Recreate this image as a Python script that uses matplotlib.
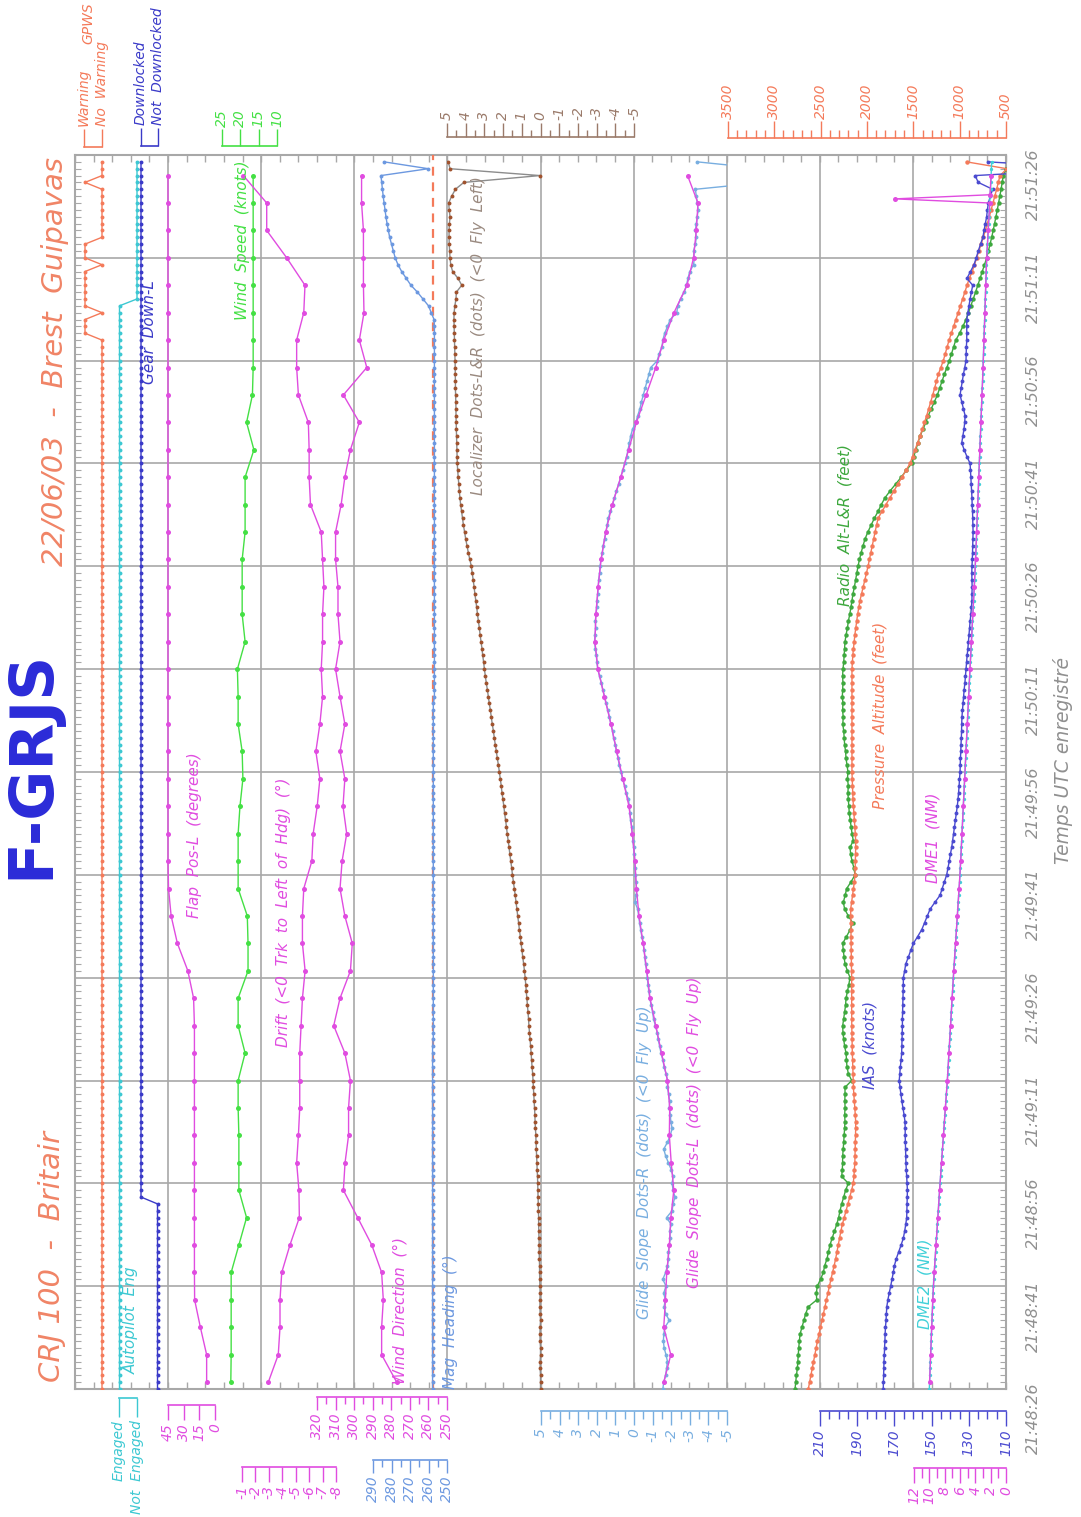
import numpy as np
import matplotlib
matplotlib.use("Agg")
import matplotlib.pyplot as plt

# ---------------------------------------------------------------- data
time_labels = ['21:48:26', '21:48:41', '21:48:56', '21:49:11', '21:49:26', '21:49:41',
               '21:49:56', '21:50:11', '21:50:26', '21:50:41', '21:50:56', '21:51:11', '21:51:26']
sec = np.arange(180)          # 1 Hz samples, seconds after 21:48:26
sec4 = np.arange(1, 178, 4)   # 0.25 Hz samples

gpws = [0] * 154 + [1, 1, 1, 0, 1, 1, 1, 1, 1, 1, 0, 1, 1, 1, 0, 0, 0, 0, 0, 0, 0, 0, 1, 0, 0, 0]
autopilot = [1] * 159 + [0] * 21
gear = [0] * 28 + [1] * 152

flap = [8, 8, 14, 19.5, 19.7, 19.7, 19.7, 19.7, 19.7, 19.7, 19.7, 19.7, 19.7, 19.7, 20.5,
        26, 36, 42, 44.5, 45] + [45] * 25

wind_speed = [22.6, 22.5, 22.5, 22.5, 22.5, 20.4, 18.3, 20.4, 20.4, 20.4, 20.6, 20.6, 18.7, 20.6, 20.6,
              17.9, 17.9, 18.1, 20.6, 20.6, 20.6, 20.1, 19.3, 19.5, 20.6, 20.6, 20.8, 18.7, 19.5, 19.5,
              19.5, 18.7, 18.7, 18.7, 16.3, 18.3, 16.7, 16.5, 16.5, 16.5, 16.5, 16.5, 16.5, 16.5, 16.5]

drift = [-2.96, -3.70, -3.83, -3.83, -3.96, -4.57, -5.27, -5.24, -5.07, -5.2, -5.3, -5.3, -5.3, -5.4, -5.5,
         -5.7, -5.5, -5.5, -5.6, -6.2, -6.3, -6.6, -6.8, -6.5, -6.8, -7.0, -6.9, -7.0, -7.0, -7.1,
         -7.0, -6.9, -6.1, -6.0, -6.0, -5.94, -5.2, -5.07, -5.07, -5.6, -5.69, -4.33, -2.84, -2.84, -1.10]

wind_dir = [277.1, 285.2, 285.2, 284.3, 285.2, 290.5, 298.1, 305.8, 304.9, 303, 303, 302, 305, 311, 307.6,
            302, 301, 305, 307.6, 306.5, 304, 306, 305, 307.6, 305, 307.6, 310, 307.6, 308.7, 308.7,
            310, 310, 307, 305, 302, 297.2, 305.8, 293.2, 297.2, 294.7, 295, 295, 295, 296, 296]

heading = ([257.8] * 51 + [257.4] * 50 + [256.8] * 55 +
           [257.0, 258.5, 260.0, 263.0, 266.0, 269.5, 272.0, 274.5, 276.5, 278.0, 279.0, 280.0,
            281.0, 281.7, 282.4, 283.0, 283.5, 284.0, 284.5, 284.9, 285.3, 285.7, 260.1, 284.0])
heading_ref = 257.3

localizer = [0.00, 0.00, 0.00, 0.02, 0.02, 0.00, 0.00, 0.02, 0.03, 0.02, 0.00, 0.02, 0.03, 0.03, 0.02, 0.03,
             0.04, 0.05, 0.05, 0.06, 0.07, 0.07, 0.08, 0.09, 0.10, 0.10, 0.11, 0.12, 0.13, 0.14, 0.15,
             0.16, 0.18, 0.19, 0.21, 0.22, 0.24, 0.25, 0.27, 0.29, 0.30, 0.32, 0.34, 0.36, 0.38, 0.40,
             0.42, 0.45, 0.48, 0.50, 0.53, 0.56, 0.59, 0.62, 0.64, 0.67, 0.70, 0.73, 0.76, 0.79, 0.82,
             0.86, 0.90, 0.95, 0.99, 1.04, 1.08, 1.13, 1.17, 1.22, 1.26, 1.31, 1.35, 1.40, 1.45, 1.50,
             1.54, 1.59, 1.64, 1.68, 1.73, 1.78, 1.82, 1.87, 1.92, 1.96, 2.01, 2.06, 2.10, 2.15, 2.20,
             2.25, 2.31, 2.36, 2.42, 2.47, 2.52, 2.58, 2.63, 2.68, 2.74, 2.79, 2.84, 2.90, 2.95, 3.00,
             3.04, 3.09, 3.13, 3.18, 3.23, 3.27, 3.32, 3.37, 3.41, 3.46, 3.51, 3.55, 3.60, 3.65, 3.70,
             3.78, 3.86, 3.93, 4.00, 4.06, 4.12, 4.17, 4.22, 4.27, 4.31, 4.34, 4.37, 4.40, 4.43, 4.45,
             4.46, 4.47, 4.48, 4.49, 4.50, 4.51, 4.52, 4.52, 4.53, 4.54, 4.55, 4.55, 4.56, 4.56, 4.57,
             4.58, 4.59, 4.60, 4.61, 4.62, 4.63, 4.62, 4.58, 4.52, 4.50, 4.21, 4.41, 4.70, 4.80, 4.84,
             4.86, 4.88, 4.89, 4.89, 4.87, 4.84, 4.88, 4.91, 4.75, 4.55, 4.10, 0.03, 4.84, 4.93]

gs_left = [-1.6, -1.98, -1.6, -1.69, -1.76, -1.9, -1.98, -2.14, -2.0, -1.9, -1.92, -1.8, -1.48, -1.17, -0.86,
           -0.69, -0.49, -0.27, -0.13, -0.05, 0.09, 0.27, 0.6, 0.93, 1.24, 1.59, 1.94, 2.1, 2.05, 1.93,
           1.77, 1.52, 1.17, 0.71, 0.29, -0.13, -0.65, -1.17, -1.6, -2.15, -2.85, -3.2, -3.35, -3.44, -2.88]

gs_right = [-1.55, -1.6, -1.7, -1.75, -1.8, -1.72, -1.62, -1.58, -1.6, -1.66,
            -1.9, -1.7, -1.62, -1.68, -1.6, -1.72, -1.55, -1.7, -1.8, -1.85,
            -1.85, -1.9, -1.95, -1.92, -2.0, -1.75, -2.05, -2.1, -2.2, -2.1,
            -2.05, -2.1, -2.0, -1.85, -1.7, -1.6, -1.8, -1.95, -2.05, -1.98,
            -1.95, -1.9, -1.92, -1.86, -1.8, -1.8, -1.72, -1.62, -1.55, -1.45,
            -1.38, -1.3, -1.25, -1.15, -1.05, -1.0, -0.92, -0.85, -0.8, -0.75,
            -0.72, -0.68, -0.62, -0.58, -0.55, -0.5, -0.42, -0.36, -0.3, -0.25,
            -0.2, -0.05, -0.12, -0.14, -0.1, -0.08, -0.06, -0.04, -0.02, 0.02,
            0.05, 0.1, 0.12, 0.18, 0.22, 0.25, 0.3, 0.42, 0.5, 0.62,
            0.7, 0.8, 0.85, 0.95, 1.0, 1.1, 1.15, 1.25, 1.32, 1.4,
            1.5, 1.58, 1.68, 1.75, 1.85, 1.95, 2.0, 2.02, 2.08, 2.12,
            2.1, 2.06, 2.08, 2.04, 2.0, 1.98, 1.95, 1.92, 1.9, 1.85,
            1.82, 1.78, 1.7, 1.66, 1.58, 1.5, 1.45, 1.38, 1.28, 1.15,
            1.05, 0.95, 0.82, 0.72, 0.6, 0.5, 0.4, 0.32, 0.25, 0.18,
            0.08, -0.1, -0.2, -0.32, -0.4, -0.5, -0.6, -0.7, -0.8, -0.9,
            -1.25, -1.35, -1.5, -1.55, -1.65, -1.8, -1.95, -2.3, -2.35, -2.5,
            -2.7, -2.82, -2.9, -3.0, -3.2, -3.25, -3.2, -3.3, -3.35, -3.3,
            -3.35, -3.4, -3.45, -3.4, -3.35, -3.3, -7.0, -7.0, -7.0, -3.4]

radio_alt = [2775, 2768, 2760, 2750, 2745, 2740, 2735, 2728, 2721, 2700,
             2680, 2660, 2632, 2541, 2545, 2535, 2500, 2470, 2455, 2430,
             2415, 2398, 2375, 2350, 2326, 2305, 2290, 2272, 2250, 2230,
             2200, 2272, 2265, 2262, 2261, 2255, 2250, 2245, 2240, 2236,
             2240, 2235, 2238, 2236, 2236, 2164, 2200, 2215, 2220, 2225,
             2240, 2250, 2258, 2261, 2250, 2240, 2230, 2225, 2210, 2195,
             2182, 2210, 2236, 2245, 2255, 2261, 2220, 2180, 2153, 2200,
             2240, 2254, 2235, 2218, 2170, 2128, 2140, 2160, 2175, 2182,
             2147, 2160, 2170, 2180, 2190, 2195, 2200, 2205, 2200, 2210,
             2204, 2215, 2225, 2230, 2240, 2245, 2250, 2260, 2255, 2262,
             2258, 2265, 2262, 2258, 2262, 2258, 2250, 2245, 2240, 2236,
             2225, 2210, 2200, 2185, 2172, 2161, 2150, 2135, 2122, 2110,
             2096, 2080, 2062, 2042, 2020, 1990, 1955, 1920, 1880, 1845,
             1805, 1750, 1690, 1630, 1575, 1517, 1495, 1472, 1450, 1427,
             1395, 1365, 1338, 1305, 1272, 1240, 1215, 1190, 1165, 1138,
             1111, 1088, 1065, 1042, 1000, 965, 931, 905, 880, 853,
             828, 804, 780, 756, 732, 708, 690, 672, 654, 638,
             623, 608, 594, 580, 565, 553, 541, 529, 500, 470]

pressure_alt = [2632, 2618, 2604, 2590, 2576, 2562, 2549, 2533, 2517, 2501,
                2486, 2470, 2454, 2437, 2421, 2405, 2388, 2370, 2353, 2337,
                2323, 2309, 2295, 2281, 2265, 2245, 2225, 2205, 2185, 2165,
                2147, 2140, 2135, 2130, 2128, 2125, 2123, 2122, 2121, 2121,
                2125, 2130, 2136, 2141, 2145, 2147, 2150, 2152, 2155, 2157,
                2158, 2160, 2162, 2163, 2164, 2164, 2164, 2165, 2164, 2164,
                2164, 2166, 2167, 2168, 2170, 2171, 2172, 2173, 2174, 2175,
                2175, 2165, 2155, 2145, 2135, 2128, 2126, 2124, 2122, 2121,
                2121, 2125, 2130, 2135, 2140, 2145, 2150, 2153, 2156, 2159,
                2161, 2161, 2162, 2161, 2160, 2161, 2162, 2161, 2161, 2160,
                2161, 2161, 2160, 2161, 2161, 2161, 2157, 2152, 2145, 2138,
                2130, 2120, 2110, 2100, 2088, 2075, 2058, 2040, 2022, 2005,
                1988, 1973, 1958, 1943, 1927, 1912, 1896, 1880, 1838, 1795,
                1752, 1709, 1666, 1622, 1579, 1535, 1508, 1480, 1453, 1427,
                1403, 1379, 1355, 1333, 1311, 1290, 1270, 1250, 1230, 1203,
                1176, 1155, 1135, 1114, 1090, 1065, 1040, 1016, 992, 968,
                944, 920, 896, 864, 840, 816, 792, 768, 745, 723,
                701, 680, 660, 640, 619, 601, 583, 565, 490, 925]

ias = [176.0, 175.9, 175.8, 175.7, 175.6, 175.4, 175.3, 175.1, 175.0, 174.8,
       174.5, 174.3, 174.1, 173.5, 172.8, 172.0, 171.3, 170.6, 170.0, 169.0,
       167.7, 166.4, 165.2, 164.5, 163.9, 163.4, 163.3, 163.2, 163.1, 163.0,
       163.2, 163.4, 163.6, 163.8, 163.9, 164.0, 164.1, 164.2, 164.2, 164.3,
       164.8, 165.4, 166.0, 166.5, 167.0, 167.4, 167.1, 166.8, 166.4, 166.1,
       166.0, 165.9, 165.8, 165.7, 165.7, 165.6, 165.5, 165.4, 165.3, 165.2,
       165.2, 164.5, 163.9, 162.5, 161.2, 159.8, 157.5, 155.3, 153.8, 152.3,
       150.8, 148.2, 145.5, 144.3, 143.1, 141.9, 141.2, 140.5, 139.9, 139.2,
       138.7, 138.2, 137.7, 137.2, 136.7, 136.2, 135.8, 135.5, 135.2, 135.0,
       134.7, 134.6, 134.5, 134.3, 134.2, 134.0, 133.9, 133.8, 133.7, 133.4,
       133.1, 132.8, 132.5, 132.1, 131.8, 131.5, 131.2, 130.9, 130.5, 130.2,
       129.9, 129.6, 129.3, 128.9, 128.6, 128.3, 128.3, 128.2, 128.3, 128.4,
       128.3, 128.1, 128.0, 127.9, 127.8, 127.7, 127.8, 127.9, 128.0, 128.2,
       128.3, 128.5, 128.7, 128.9, 129.1, 129.3, 131.0, 132.5, 133.8, 133.2,
       132.6, 132.2, 132.0, 132.9, 133.8, 134.7, 134.1, 133.5, 132.9, 132.2,
       131.5, 131.4, 131.3, 131.1, 131.1, 131.1, 131.1, 130.5, 129.9, 129.3,
       128.6, 127.9, 131.0, 129.1, 127.2, 126.0, 124.9, 123.7, 122.4, 121.8,
       121.1, 120.4, 120.0, 119.5, 118.4, 117.2, 124.9, 126.6, 60.0, 119.5]

dme1_sec = list(range(1, 174, 4)) + [173.6, 174.2, 177]
dme1 = [9.97, 9.83, 9.69, 9.55, 9.36, 9.13, 8.89, 8.66, 8.41, 8.16, 7.91, 7.65, 7.44, 7.23, 7.03,
        6.81, 6.58, 6.35, 6.12, 5.91, 5.74, 5.57, 5.39, 5.22, 5.05, 4.87, 4.70, 4.51, 4.33, 4.14,
        3.97, 3.83, 3.69, 3.55, 3.41, 3.27, 3.13, 2.99, 2.87, 2.75, 2.64, 2.52, 2.32, 2.12,
        14.5, 2.09, 1.94]

dme2 = [10.0, 9.97, 9.93, 9.90, 9.86, 9.83, 9.79, 9.76, 9.72, 9.69, 9.65, 9.62, 9.58, 9.55, 9.51, 9.48,
        9.42, 9.36, 9.30, 9.25, 9.19, 9.13, 9.07, 9.01, 8.95, 8.89, 8.83, 8.78, 8.72, 8.66, 8.60,
        8.54, 8.48, 8.41, 8.35, 8.29, 8.22, 8.16, 8.10, 8.03, 7.97, 7.91, 7.84, 7.78, 7.71, 7.65,
        7.60, 7.55, 7.49, 7.44, 7.39, 7.34, 7.29, 7.23, 7.18, 7.13, 7.08, 7.03, 6.97, 6.92, 6.87,
        6.81, 6.75, 6.69, 6.64, 6.58, 6.52, 6.46, 6.41, 6.35, 6.29, 6.23, 6.17, 6.12, 6.06, 6.00,
        5.96, 5.91, 5.87, 5.83, 5.78, 5.74, 5.70, 5.65, 5.61, 5.57, 5.52, 5.48, 5.44, 5.39, 5.35,
        5.31, 5.26, 5.22, 5.18, 5.13, 5.09, 5.05, 5.00, 4.96, 4.92, 4.87, 4.83, 4.79, 4.74, 4.70,
        4.65, 4.61, 4.56, 4.51, 4.47, 4.42, 4.37, 4.33, 4.28, 4.23, 4.19, 4.14, 4.09, 4.05, 4.00,
        3.97, 3.93, 3.90, 3.86, 3.83, 3.79, 3.76, 3.72, 3.69, 3.65, 3.62, 3.58, 3.55, 3.51, 3.48,
        3.45, 3.41, 3.38, 3.34, 3.31, 3.27, 3.24, 3.20, 3.17, 3.13, 3.10, 3.06, 3.03, 2.99, 2.96,
        2.93, 2.90, 2.87, 2.84, 2.81, 2.78, 2.75, 2.72, 2.70, 2.67, 2.64, 2.61, 2.58, 2.55, 2.52,
        2.47, 2.42, 2.37, 2.32, 2.27, 2.22, 2.17, 2.12, 2.07, 2.02, 1.98, 1.94, 1.90, 1.87]

# ---------------------------------------------------------------- layout / style
W, H = 1081, 1517
X0, X1, Y0, Y1 = 75, 1006, 155, 1389
FONT = 'DejaVu Sans'

C_SALMON = '#f47a5a'
C_TITLE = '#f08466'
C_CYAN = '#3cc8d2'
C_GEAR = '#3a3ac8'
C_MAG = '#e04ce0'
C_LIME = '#44e044'
C_HDG = '#6c98e0'
C_LOC = '#8c8c8c'
C_LOCM = '#a0522d'
C_GSR = '#78aee0'
C_RALT = '#3ea83e'
C_IAS = '#4a4ad0'
C_DME2 = '#40d0d8'
C_BLUE = '#2b2bd8'
C_GRAY = '#909090'
C_GRID = '#a8a8a8'

fig = plt.figure(figsize=(W / 100, H / 100), dpi=100)
fig.patch.set_facecolor('white')


def add_ax(x0, x1, y0, y1):
    return fig.add_axes([x0 / W, 1 - y1 / H, (x1 - x0) / W, (y1 - y0) / H])


def value_at(px, v_a, px_a, v_b, px_b):
    return v_a + (px - px_a) * (v_b - v_a) / (px_b - px_a)


def series_ax(px_l, px_r, v_a, px_a, v_b, px_b):
    ax = add_ax(px_l, px_r, Y0, Y1)
    ax.set_xlim(value_at(px_l, v_a, px_a, v_b, px_b), value_at(px_r, v_a, px_a, v_b, px_b))
    ax.set_ylim(0, 180)
    ax.axis('off')
    return ax


def trace(ax, x, t, color, mcolor=None, ms=2.8, lw=1.0, **kw):
    ax.plot(x, t, '-', color=color, lw=lw, marker='o', ms=ms,
            mfc=mcolor or color, mec=mcolor or color, mew=0, **kw)


def scale(v_a, px_a, v_b, px_b, y_line, side, color, majors, labels, minors=(),
          maj_len=10, min_len=5, fs=10, pad=2):
    x0, x1 = min(px_a, px_b), max(px_a, px_b)
    if side == 'bottom':
        ax = add_ax(x0, x1, y_line - 2, y_line)
    else:
        ax = add_ax(x0, x1, y_line, y_line + 2)
    ax.set_xlim(value_at(x0, v_a, px_a, v_b, px_b), value_at(x1, v_a, px_a, v_b, px_b))
    ax.patch.set_visible(False)
    for s in ax.spines.values():
        s.set_visible(False)
    ax.spines[side].set_visible(True)
    ax.spines[side].set_color(color)
    ax.spines[side].set_linewidth(1.2)
    ax.set_yticks([])
    if side == 'top':
        ax.xaxis.tick_top()
    ax.set_xticks(majors)
    ax.set_xticklabels(labels, rotation=90, color=color, fontsize=fs,
                       fontstyle='italic', family=FONT)
    ax.set_xticks(list(minors), minor=True)
    ax.tick_params(axis='x', which='major', direction='out', length=maj_len, width=1,
                   color=color, pad=pad)
    ax.tick_params(axis='x', which='minor', direction='out', length=min_len, width=1,
                   color=color)
    return ax


def label(x, y, s, color, fs=11, **kw):
    fig.text(x / W, 1 - y / H, s, rotation=90, ha='center', va='center', color=color,
             fontsize=fs, fontstyle='italic', family=FONT, **kw)


# ---------------------------------------------------------------- frame / grid
base = add_ax(X0, X1, Y0, Y1)
base.set_xlim(0, 10)
base.set_ylim(0, 180)
base.set_xticks(range(0, 11))
base.set_xticks(np.arange(0, 10.01, 0.2), minor=True)
base.set_yticks(range(0, 181, 15))
base.set_yticks(range(0, 181), minor=True)
base.grid(True, which='major', color=C_GRID, lw=1.2)
base.set_xticklabels([])
base.set_yticklabels(time_labels, rotation=90, color=C_GRAY, fontsize=11.5,
                     fontstyle='italic', family=FONT)
base.tick_params(axis='x', which='both', direction='in', top=True, bottom=True,
                 length=5, color=C_GRID, width=1)
base.tick_params(axis='y', which='minor', direction='in', left=True, right=True,
                 length=4, color=C_GRID, width=0.8)
base.tick_params(axis='y', which='major', direction='in', left=False, right=True,
                 labelleft=False, labelright=True, length=0, pad=14)
for s in base.spines.values():
    s.set_color(C_GRID)
    s.set_linewidth(1.5)

# ---------------------------------------------------------------- series
ax = series_ax(X0, X1, 1, 85, 0, 102)
trace(ax, gpws, sec, C_SALMON)
ax = series_ax(X0, X1, 1, 119.5, 0, 137)
trace(ax, autopilot, sec, C_CYAN)
ax = series_ax(X0, X1, 1, 141, 0, 157.5)
trace(ax, gear, sec, C_GEAR)

ax = series_ax(X0, X1, 45, 168, 0, 215)
trace(ax, flap, sec4, C_MAG, ms=3.6)
ax = series_ax(X0, X1, 25, 222, 10, 277)
trace(ax, wind_speed, sec4, C_LIME, ms=3.6)
ax = series_ax(X0, X1, -1, 242, -8, 336)
trace(ax, drift, sec4, C_MAG, ms=3.6)
ax = series_ax(X0, X1, 320, 317, 250, 447)
trace(ax, wind_dir, sec4, C_MAG, ms=3.6)

ax = series_ax(X0, X1, 290, 373, 250, 447)
ax.axvline(heading_ref, color=C_SALMON, lw=1.6, ls=(0, (4, 3)))
trace(ax, heading, sec, C_HDG)

ax = series_ax(447, 634, 5, 447, -5, 634)
trace(ax, localizer, sec, C_LOC, mcolor=C_LOCM)

ax = series_ax(541, 727, 5, 541, -5, 727)
trace(ax, gs_right, sec, C_GSR)
trace(ax, gs_left, sec4, C_MAG, ms=3.6)

ax = series_ax(727, X1, 3500, 727.8, 500, 1006)
trace(ax, radio_alt, sec, C_RALT, ms=3.2)
trace(ax, pressure_alt, sec, C_SALMON, ms=3.2)
ax = series_ax(727, X1, 210, 820, 110, 1006)
trace(ax, ias, sec, C_IAS)
ax = series_ax(727, X1, 12, 914, 0, 1006)
trace(ax, dme2, sec, C_DME2, ms=2.4)
trace(ax, dme1, dme1_sec, C_MAG, ms=3.6)

# ---------------------------------------------------------------- scales (bottom)
scale(1, 119, 0, 137, 1398, 'bottom', C_CYAN, [1, 0], ['Engaged', 'Not  Engaged'], maj_len=14)
scale(45, 168, 0, 215, 1405, 'bottom', C_MAG, [45, 30, 15, 0], ['45', '30', '15', '0'], maj_len=11)
scale(320, 317, 250, 447, 1397, 'bottom', C_MAG, list(range(320, 249, -10)),
      [str(v) for v in range(320, 249, -10)], minors=range(315, 250, -10), maj_len=9, min_len=5)
scale(-1, 242, -8, 336, 1467, 'bottom', C_MAG, list(range(-1, -9, -1)),
      [str(v) for v in range(-1, -9, -1)], maj_len=11)
scale(290, 373, 250, 447, 1460, 'bottom', C_HDG, list(range(290, 249, -10)),
      [str(v) for v in range(290, 249, -10)], minors=range(285, 250, -10), maj_len=9, min_len=5)
scale(5, 541, -5, 727, 1411, 'bottom', C_GSR, list(range(5, -6, -1)),
      [str(v) for v in range(5, -6, -1)], minors=np.arange(4.5, -5, -1), maj_len=10, min_len=6)
scale(210, 820, 110, 1006, 1411, 'bottom', C_IAS, list(range(210, 109, -20)),
      [str(v) for v in range(210, 109, -20)], minors=range(205, 110, -5), maj_len=11, min_len=6)
scale(12, 914, 0, 1006, 1468, 'bottom', C_MAG, list(range(12, -1, -2)),
      [str(v) for v in range(12, -1, -2)], minors=range(11, 0, -2), maj_len=11, min_len=7)

# ---------------------------------------------------------------- scales (top)
scale(1, 84, 0, 102, 147, 'top', C_SALMON, [1, 0], ['Warning', 'No  Warning'], maj_len=13)
scale(1, 141, 0, 158, 146, 'top', C_GEAR, [1, 0], ['Downlocked', 'Not  Downlocked'], maj_len=13)
scale(25, 222, 10, 277, 146, 'top', C_LIME, [25, 20, 15, 10], ['25', '20', '15', '10'], maj_len=12)
scale(5, 447, -5, 634, 137, 'top', '#9a7a6a', list(range(5, -6, -1)),
      [str(v) for v in range(5, -6, -1)], minors=np.arange(4.5, -5, -1), maj_len=10, min_len=5)
scale(3500, 727.8, 500, 1006, 138, 'top', C_SALMON, list(range(3500, 499, -500)),
      [str(v) for v in range(3500, 499, -500)], minors=range(3400, 500, -100), maj_len=12, min_len=6)

# ---------------------------------------------------------------- texts
label(88, 23, 'GPWS', C_SALMON, fs=10)
label(131, 1320, 'Autopilot  Eng', C_CYAN)
label(150, 332, 'Gear  Down-L', C_GEAR)
label(195, 835, 'Flap  Pos-L  (degrees)', C_MAG)
label(243, 240, 'Wind  Speed  (knots)', C_LIME)
label(283, 912, 'Drift  (<0  Trk  to  Left  of  Hdg)  (°)', C_MAG)
label(400, 1310, 'Wind  Direction  (°)', C_MAG)
label(450, 1322, 'Mag  Heading  (°)', C_HDG)
label(478, 336, 'Localizer  Dots-L&R  (dots)  (<0  Fly  Left)', '#9a8a80')
label(645, 1162, 'Glide  Slope  Dots-R  (dots)  (<0  Fly  Up)', C_GSR)
label(695, 1132, 'Glide  Slope  Dots-L  (dots)  (<0  Fly  Up)', C_MAG)
label(845, 525, 'Radio  Alt-L&R  (feet)', C_RALT)
label(880, 715, 'Pressure  Altitude  (feet)', C_SALMON)
label(870, 1045, 'IAS  (knots)', C_IAS)
label(933, 838, 'DME1  (NM)', C_MAG)
label(925, 1284, 'DME2  (NM)', C_DME2)

label(52, 1257, 'CRJ 100  -  Britair', C_TITLE, fs=21)
label(55, 362, '22/06/03  -  Brest  Guipavas', C_TITLE, fs=21)
fig.text(32 / W, 1 - 764 / H, 'F-GRJS', rotation=90, ha='center', va='center',
         color=C_BLUE, fontsize=44, fontweight='bold', family=FONT)
label(1063, 760, 'Temps UTC enregistré', C_GRAY, fs=13.5)

fig.savefig('out.png', dpi=100, facecolor='white')
